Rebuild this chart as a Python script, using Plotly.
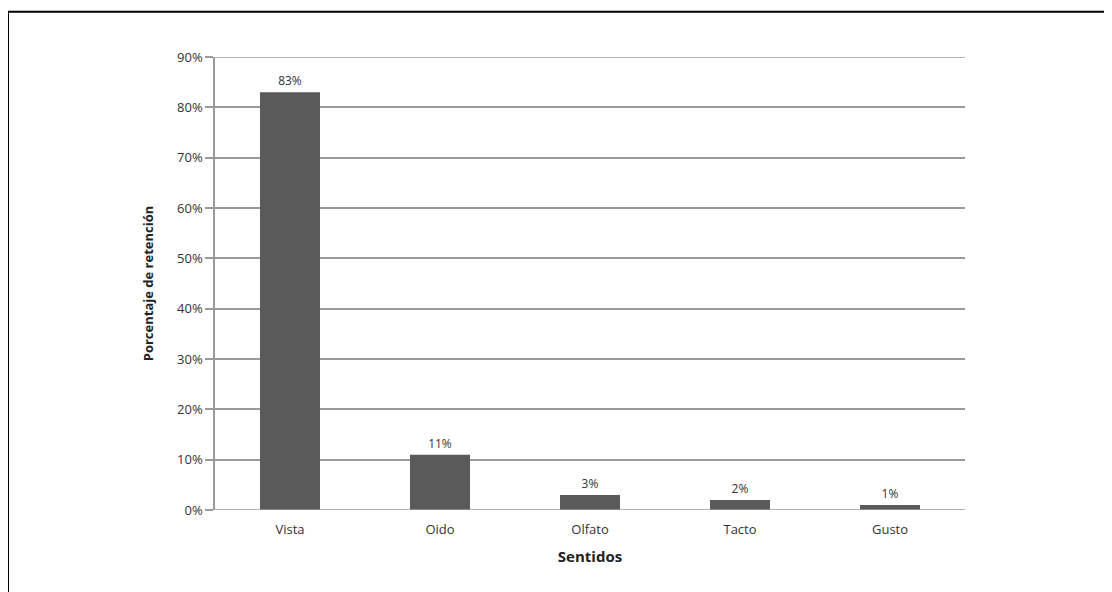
import plotly.graph_objects as go

# Porcentaje de retención por sentido
sentidos = ["Vista", "Oido", "Olfato", "Tacto", "Gusto"]
retencion = [83, 11, 3, 2, 1]
tick_vals = [0, 10, 20, 30, 40, 50, 60, 70, 80, 90]
tick_text = [f"{v}%" for v in tick_vals]

FONT = "Open Sans"
GRID = "#9a9a9a"

bar = go.Bar(
    x=sentidos,
    y=retencion,
    marker_color="#5a5a5a",
    marker_line_width=0,
    width=0.4,
    text=[f"{v}%" for v in retencion],
    textposition="outside",
    cliponaxis=False,
)
bar.textfont.size = 12
bar.textfont.color = "#333"

fig = go.Figure([bar])
# page body adds 8px, so the figure is a bit smaller than the window
fig.layout.width = 1104
fig.layout.height = 584
fig.layout.margin = dict(l=207, r=147, t=49, b=82)
fig.layout.plot_bgcolor = "#fff"
fig.layout.paper_bgcolor = "#fff"
fig.layout.font = dict(family=FONT, color="#333", size=12)
fig.layout.showlegend = False

fig.layout.xaxis.tickfont.size = 13
fig.layout.xaxis.ticklabelstandoff = 10
fig.layout.xaxis.title = dict(
    text="<b>Sentidos</b>", font=dict(size=15, color="#222"), standoff=14
)

fig.layout.yaxis.range = [0, 90]
fig.layout.yaxis.tickvals = tick_vals
fig.layout.yaxis.ticktext = tick_text
fig.layout.yaxis.tickfont.size = 13
fig.layout.yaxis.showgrid = True
fig.layout.yaxis.gridcolor = GRID
fig.layout.yaxis.gridwidth = 1.5
fig.layout.yaxis.showline = True
fig.layout.yaxis.linecolor = GRID
fig.layout.yaxis.linewidth = 1.5
fig.layout.yaxis.ticks = "outside"
fig.layout.yaxis.ticklen = 8
fig.layout.yaxis.tickcolor = GRID
fig.layout.yaxis.tickwidth = 1.5
fig.layout.yaxis.zeroline = False
fig.layout.yaxis.title = dict(
    text="<b>Porcentaje de retención</b>", font=dict(size=13, color="#222"), standoff=20
)

# edge gridlines at 0% and 90% (plotly skips them at the range ends)
for y in (tick_vals[0], tick_vals[-1]):
    fig.add_hline(y=y, line_color=GRID, line_width=1.5, layer="above")

# frame around the figure (cut at right/bottom edges)
fig.add_shape(
    type="rect",
    xref="paper",
    yref="paper",
    x0=-0.276,
    x1=1.3,
    y0=-0.3,
    y1=1.1,
    line=dict(color="black", width=2),
    fillcolor="rgba(0,0,0,0)",
)

fig.write_html("out.html")
